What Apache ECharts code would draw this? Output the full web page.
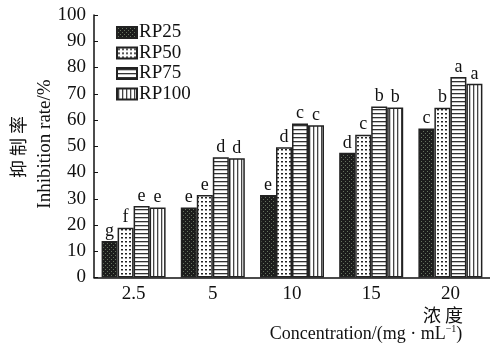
<!DOCTYPE html>
<html>
<head>
<meta charset="utf-8">
<title>Inhibition rate</title>
<script src="https://cdn.jsdelivr.net/npm/echarts@6/dist/echarts.min.js"></script>
<style>
    html, body { margin: 0; padding: 0; background: #fff; }
    #barGraph { width: 490px; height: 346px; }
</style>
</head>
<body>
<div id="barGraph"></div>
<script>
/* ------ data ------ */
var concentrations = ['2.5', '5', '10', '15', '20'];
var seriesNames = ['RP25', 'RP50', 'RP75', 'RP100'];
var rp25 = [13.9, 26.7, 31.4, 47.5, 56.8];
var rp50 = [19.0, 31.4, 49.6, 54.4, 64.7];
var rp75 = [27.2, 45.8, 58.7, 65.1, 76.4];
var rp100 = [26.7, 45.4, 58.0, 64.8, 73.8];
var letters25 = ['g', 'e', 'e', 'd', 'c'];
var letters50 = ['f', 'e', 'd', 'c', 'b'];
var letters75 = ['e', 'd', 'c', 'b', 'a'];
var letters100 = ['e', 'd', 'c', 'b', 'a'];
var yTicks = [0, 100, 10];   // min, max, interval

var serif = '"Liberation Serif", "Times New Roman", serif';
var cjk = '"Noto Sans CJK SC", sans-serif';

/* ------ fill patterns ------ */
function makePattern(kind) {
    var c = document.createElement('canvas');
    var ctx;
    c.width = 4; c.height = 4;
    ctx = c.getContext('2d');
    if (kind == 'dark') {
        ctx.fillStyle = '#1c1c1c';
        ctx.fillRect(0, 0, 4, 4);
        ctx.fillStyle = '#66735f';
        ctx.fillRect(1, 1, 1, 1);
        ctx.fillRect(3, 3, 1, 1);
    } else if (kind == 'dots') {
        ctx.fillStyle = '#fff';
        ctx.fillRect(0, 0, 4, 4);
        ctx.fillStyle = '#222';
        ctx.fillRect(1, 1, 2, 1.5);
    } else if (kind == 'hline') {
        ctx.fillStyle = '#fff';
        ctx.fillRect(0, 0, 4, 4);
        ctx.fillStyle = '#333';
        ctx.fillRect(0, 1, 4, 1.3);
    } else {
        ctx.fillStyle = '#fff';
        ctx.fillRect(0, 0, 4, 4);
        ctx.fillStyle = '#444';
        ctx.fillRect(1, 0, 1.3, 4);
    }
    return { image: c, repeat: 'repeat' };
}

function barSeries(name, values, letters, pattern) {
    return {
        name: name,
        type: 'bar',
        barWidth: 16,
        barGap: '0%',
        itemStyle: {
            color: makePattern(pattern),
            borderColor: '#222',
            borderWidth: 1.5
        },
        label: {
            show: true,
            position: 'top',
            distance: 1,
            fontFamily: serif,
            fontSize: 18,
            color: '#111',
            formatter: function (p) { return letters[p.dataIndex]; }
        },
        data: values
    };
}

/* ---------- bar chart ---------- */
var barGraph = echarts.init(document.getElementById('barGraph'));

option = {
    animation: false,
    backgroundColor: '#fff',
    textStyle: { fontFamily: serif, color: '#111' },
    grid: { left: 94, top: 15, width: 400, bottom: 68.5 },
    legend: {
        orient: 'vertical',
        left: 111,
        top: 18,
        itemWidth: 20,
        itemHeight: 11,
        itemGap: 1.5,
        icon: 'rect',
        data: seriesNames,
        textStyle: { fontFamily: serif, fontSize: 19, color: '#111', padding: [0, 0, 0, -3] }
    },
    xAxis: {
        type: 'category',
        data: concentrations,
        axisLine: { lineStyle: { color: '#111', width: 1.5 } },
        axisTick: { inside: true, length: 5, lineStyle: { color: '#111' } },
        axisLabel: { fontFamily: serif, fontSize: 19, color: '#111', margin: 7 }
    },
    yAxis: {
        type: 'value',
        min: yTicks[0],
        max: yTicks[1],
        interval: yTicks[2],
        splitLine: { show: false },
        axisLine: { show: true, lineStyle: { color: '#111', width: 1.5 } },
        axisTick: { show: true, inside: true, length: 4, lineStyle: { color: '#111' } },
        axisLabel: { fontFamily: serif, fontSize: 19, color: '#111', margin: 8 }
    },
    graphic: [
        {   // 纵轴标题
            type: 'text', x: 18, y: 147, rotation: Math.PI / 2,
            style: { text: '抑 制 率', font: '18px ' + cjk, fill: '#111', align: 'center', verticalAlign: 'middle' }
        },
        {
            type: 'text', x: 45, y: 144, rotation: Math.PI / 2,
            style: { text: 'Inhibition rate/%', font: '19px ' + serif, fill: '#111', align: 'center', verticalAlign: 'middle' }
        },
        {   // 横轴标题
            type: 'text', x: 443, y: 315,
            style: { text: '浓 度', font: '18px ' + cjk, fill: '#111', align: 'center', verticalAlign: 'middle' }
        },
        {
            type: 'text', x: 366, y: 334,
            style: {
                text: '{t|Concentration/(mg · mL}{s|−1}{t|)}',
                align: 'center', verticalAlign: 'middle',
                rich: {
                    t: { fontFamily: serif, fontSize: 18, fill: '#111' },
                    s: { fontFamily: serif, fontSize: 10, fill: '#111', padding: [0, 0, 9, 0] }
                }
            }
        }
    ],
    series: [
        barSeries('RP25', rp25, letters25, 'dark'),
        barSeries('RP50', rp50, letters50, 'dots'),
        barSeries('RP75', rp75, letters75, 'hline'),
        barSeries('RP100', rp100, letters100, 'vline')
    ]
};
barGraph.setOption(option);
</script>
</body>
</html>
